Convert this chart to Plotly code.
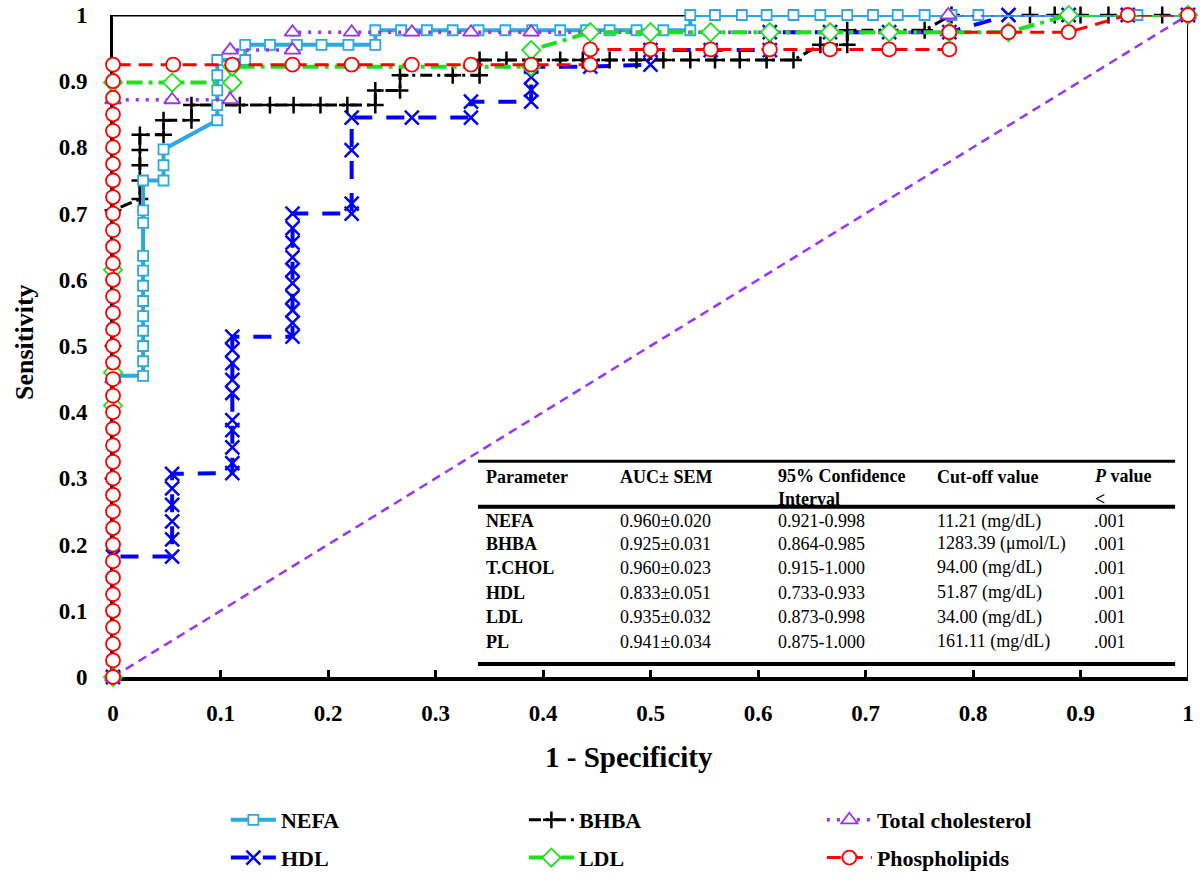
import plotly.graph_objects as go

# ROC curves: x = 1 - specificity, y = sensitivity
nefa_x = [0, 0,
          0.028, 0.028, 0.028, 0.028, 0.028, 0.028, 0.028, 0.028, 0.028, 0.028, 0.028, 0.028,
          0.047, 0.047, 0.047,
          0.097, 0.097, 0.097, 0.097, 0.097,
          0.123, 0.123,
          0.146, 0.171, 0.194, 0.219, 0.244,
          0.244,
          0.268, 0.292, 0.316, 0.340, 0.365, 0.390, 0.416, 0.440, 0.462, 0.487, 0.512, 0.537,
          0.537,
          0.560, 0.585, 0.608, 0.633, 0.658, 0.683, 0.707, 0.730, 0.755, 0.780, 0.805, 0.953, 1.0]
nefa_y = [0, 0.455,
          0.455, 0.477, 0.500, 0.523, 0.545, 0.568, 0.591, 0.614, 0.636, 0.686, 0.705, 0.750,
          0.750, 0.773, 0.797,
          0.841, 0.864, 0.886, 0.909, 0.932,
          0.932, 0.955,
          0.955, 0.955, 0.955, 0.955, 0.955,
          0.977,
          0.977, 0.977, 0.977, 0.977, 0.977, 0.977, 0.977, 0.977, 0.977, 0.977, 0.977, 0.977,
          1.0,
          1.0, 1.0, 1.0, 1.0, 1.0, 1.0, 1.0, 1.0, 1.0, 1.0, 1.0, 1.0, 1.0]

bhba_x = [0, 0, 0, 0,
          0.025, 0.025, 0.025, 0.025, 0.025,
          0.047, 0.047,
          0.073, 0.073,
          0.118, 0.146, 0.168, 0.193, 0.218, 0.244,
          0.244, 0.267,
          0.267, 0.316, 0.341,
          0.341, 0.366, 0.391, 0.416, 0.437, 0.462, 0.487, 0.512, 0.537, 0.560, 0.583, 0.608, 0.633,
          0.658, 0.683,
          0.683, 0.755,
          0.780, 0.853, 0.876, 0.900, 0.926, 0.976, 1.0]
bhba_y = [0, 0.300, 0.500, 0.705,
          0.722, 0.750, 0.773, 0.796, 0.819,
          0.819, 0.841,
          0.841, 0.864,
          0.864, 0.864, 0.864, 0.864, 0.864, 0.864,
          0.886, 0.886,
          0.909, 0.909, 0.909,
          0.932, 0.932, 0.932, 0.932, 0.932, 0.932, 0.932, 0.932, 0.932, 0.932, 0.932, 0.932, 0.932,
          0.955, 0.955,
          0.977, 0.977,
          1.0, 1.0, 1.0, 1.0, 1.0, 1.0, 1.0]

tchol_x = [0, 0, 0, 0.055, 0.109, 0.109, 0.167, 0.167, 0.222, 0.278, 0.333, 0.389, 0.777, 0.777, 1.0]
tchol_y = [0, 0.450, 0.872, 0.872, 0.872, 0.947, 0.947, 0.974, 0.974, 0.974, 0.974, 0.974, 0.974, 1.0, 1.0]

hdl_x = [0, 0,
         0.055, 0.055, 0.055, 0.055, 0.055, 0.055,
         0.111, 0.111, 0.111, 0.111, 0.111, 0.111, 0.111, 0.111, 0.111, 0.111,
         0.167, 0.167, 0.167, 0.167, 0.167, 0.167, 0.167, 0.167, 0.167, 0.167,
         0.222, 0.222, 0.222, 0.222,
         0.278,
         0.333, 0.333,
         0.389, 0.389, 0.389, 0.389,
         0.444,
         0.500, 0.500,
         0.556,
         0.611, 0.611,
         0.667, 0.722, 0.778,
         0.833, 0.889, 0.944, 1.0]
hdl_y = [0, 0.182,
         0.182, 0.208, 0.235, 0.260, 0.285, 0.307,
         0.308, 0.323, 0.347, 0.373, 0.388, 0.429, 0.449, 0.474, 0.494, 0.514,
         0.514, 0.535, 0.554, 0.574, 0.595, 0.615, 0.634, 0.656, 0.678, 0.700,
         0.700, 0.715, 0.796, 0.845,
         0.845,
         0.845, 0.869,
         0.869, 0.887, 0.906, 0.922,
         0.922,
         0.925, 0.947,
         0.947,
         0.947, 0.974,
         0.974, 0.974, 0.974,
         1.0, 1.0, 1.0, 1.0]

ldl_x = [0, 0, 0, 0, 0, 0.055, 0.111, 0.111, 0.389, 0.389, 0.444, 0.500, 0.556, 0.611, 0.667, 0.722, 0.778, 0.833, 0.889, 1.0]
ldl_y = [0, 0.410, 0.460, 0.615, 0.898, 0.898, 0.898, 0.922, 0.922, 0.947, 0.974, 0.974, 0.974, 0.974, 0.974, 0.974, 0.974, 0.974, 1.0, 1.0]

pl_x = [0, 0, 0, 0, 0, 0, 0, 0, 0, 0, 0, 0, 0, 0, 0, 0, 0, 0, 0,
        0, 0, 0, 0, 0, 0, 0, 0, 0, 0, 0, 0, 0, 0, 0, 0, 0, 0, 0,
        0.056, 0.111, 0.167, 0.222, 0.278, 0.333, 0.389, 0.444,
        0.444, 0.500, 0.556, 0.611, 0.667, 0.722, 0.778,
        0.778, 0.833, 0.889,
        0.944, 1.0]
pl_y = [0.000, 0.025, 0.050, 0.075, 0.100, 0.125, 0.150, 0.175, 0.200, 0.225, 0.250, 0.275, 0.300,
        0.325, 0.350, 0.375, 0.400, 0.425, 0.450, 0.475, 0.500, 0.525, 0.550, 0.575, 0.600, 0.625,
        0.650, 0.675, 0.700, 0.725, 0.750, 0.775, 0.800, 0.825, 0.850, 0.875, 0.900, 0.925,
        0.925, 0.925, 0.925, 0.925, 0.925, 0.925, 0.925, 0.925,
        0.948, 0.948, 0.948, 0.948, 0.948, 0.948, 0.948,
        0.974, 0.974, 0.974,
        1.0, 1.0]

ref_x = [0, 1]
ref_y = [0, 1]

x_ticks = [0, 0.1, 0.2, 0.3, 0.4, 0.5, 0.6, 0.7, 0.8, 0.9, 1]
y_ticks = [0, 0.1, 0.2, 0.3, 0.4, 0.5, 0.6, 0.7, 0.8, 0.9, 1]

# inset table
header = ["Parameter", "AUC± SEM", "95% Confidence<br>Interval", "Cut-off value", "<i>P</i> value<br>&lt;"]
params = ["NEFA", "BHBA", "T.CHOL", "HDL", "LDL", "PL"]
auc_sem = ["0.960±0.020", "0.925±0.031", "0.960±0.023", "0.833±0.051", "0.935±0.032", "0.941±0.034"]
conf_int = ["0.921-0.998", "0.864-0.985", "0.915-1.000", "0.733-0.933", "0.873-0.998", "0.875-1.000"]
cut_off = ["11.21 (mg/dL)", "1283.39 (μmol/L)", "94.00 (mg/dL)", "51.87 (mg/dL)", "34.00 (mg/dL)", "161.11 (mg/dL)"]
p_value = [".001", ".001", ".001", ".001", ".001", ".001"]

SERIF = "Liberation Serif"

fig = go.Figure()

fig.add_trace(go.Scatter(x=ref_x, y=ref_y, mode="lines", showlegend=False, hoverinfo="skip",
                         line=dict(color="#9933FF", width=2.5, dash="9px,6px")))

curves = [
    # name, x, y, colour, dash, width, symbol, size, fill, legend, rank
    ("HDL", hdl_x, hdl_y, "#0000FF", "18px,14px", 4, "x-thin", 14, "#0000FF", "legend2", 1),
    ("BHBA", bhba_x, bhba_y, "black", "12px,5px,3px,5px", 3, "cross-thin", 12, "black", "legend", 2),
    ("NEFA", nefa_x, nefa_y, "#2BA9E0", "solid", 4, "square", 10, "white", "legend", 1),
    ("Total cholesterol", tchol_x, tchol_y, "#9933EE", "3px,7px", 3.5, "triangle-up", 14, "white", "legend", 3),
    ("LDL", ldl_x, ldl_y, "#1EE01E", "16px,6px,4px,6px", 4, "diamond", 14, "white", "legend2", 2),
    ("Phospholipids", pl_x, pl_y, "#FF0000", "14px,8px", 3, "circle", 14, "white", "legend2", 3),
]

for name, xs, ys, col, dash, lw, sym, ms, fill, leg, rank in curves:
    fig.add_trace(go.Scatter(
        x=xs, y=ys, name=name, mode="lines+markers", cliponaxis=False,
        legend=leg, legendrank=rank,
        line=dict(color=col, width=lw, dash=dash),
        marker=dict(symbol=sym, size=ms, color=fill,
                    line=dict(color=col, width=2.5 if sym in ("x-thin", "cross-thin") else 1.8)),
    ))

# frame on top and right
fig.add_shape(type="line", x0=0, x1=1, y0=1, y1=1, xref="x", yref="y", layer="below",
              line=dict(color="black", width=3))
fig.add_shape(type="line", x0=1, x1=1, y0=0, y1=1, xref="x", yref="y", layer="below",
              line=dict(color="black", width=2))

# table rules
tab_x0, tab_x1 = 0.3395, 0.988
for yy, w in [(0.326, 3), (0.257, 4), (0.0196, 4)]:
    fig.add_shape(type="line", x0=tab_x0, x1=tab_x1, y0=yy, y1=yy, xref="x", yref="y",
                  line=dict(color="black", width=w))

col_x = [0.345, 0.4696, 0.6165, 0.7644, 0.9105]
head_y1, head_y2 = 0.302, 0.287
row_y = [0.2356, 0.201, 0.1647, 0.1269, 0.0906, 0.0529]


def cell(x, y, text, bold=False):
    fig.add_annotation(x=x, y=y, xref="x", yref="y", text=text, showarrow=False,
                       xanchor="left", yanchor="middle", align="left",
                       font=dict(family=SERIF, size=18, color="black",
                                 weight="bold" if bold else "normal"))


for i in range(5):
    cell(col_x[i], head_y2 if "<br>" in header[i] else head_y1, header[i], True)
for r in range(len(params)):
    cell(col_x[0], row_y[r], params[r], True)
    cell(col_x[1], row_y[r], auc_sem[r])
    cell(col_x[2], row_y[r], conf_int[r])
    cell(col_x[3], row_y[r], cut_off[r])
    cell(col_x[4], row_y[r], p_value[r])

# axis titles as annotations (the x title sits a little left of centre)
fig.add_annotation(x=0.48, y=-0.1208, xref="paper", yref="paper", text="1 - Specificity",
                   showarrow=False, xanchor="center", yanchor="middle",
                   font=dict(family=SERIF, size=29, color="black", weight="bold"))
fig.add_annotation(x=-0.0828, y=0.506, xref="paper", yref="paper", text="Sensitivity",
                   showarrow=False, xanchor="center", yanchor="middle", textangle=-90,
                   font=dict(family=SERIF, size=26, color="black", weight="bold"))

legend_style = dict(orientation="h", xanchor="left", yanchor="middle", entrywidth=238,
                    itemwidth=45, bgcolor="rgba(0,0,0,0)",
                    font=dict(family=SERIF, size=22, color="black", weight="bold"))

fig.update_layout(
    width=1200, height=888,
    margin=dict(l=113, r=12, t=15, b=211, autoexpand=False),
    plot_bgcolor="white", paper_bgcolor="white",
    font=dict(family=SERIF, color="black"),
    legend=dict(legend_style, x=0.105, y=-0.216),
    legend2=dict(legend_style, x=0.105, y=-0.273),
    xaxis=dict(range=[0, 1], tickvals=x_ticks, ticktext=[str(v) for v in x_ticks],
               automargin=False, ticklabeloverflow="allow",
               showgrid=False, zeroline=False, showline=True, linecolor="black", linewidth=4,
               ticks="inside", ticklen=7, tickwidth=3, tickcolor="black", layer="below traces",
               ticklabelstandoff=12,
               tickfont=dict(family=SERIF, size=23, color="black", weight="bold")),
    yaxis=dict(range=[0, 1], tickvals=y_ticks, ticktext=[str(v) for v in y_ticks],
               automargin=False, ticklabeloverflow="allow",
               showgrid=False, zeroline=False, showline=True, linecolor="black", linewidth=3,
               ticks="inside", ticklen=6, tickwidth=3, tickcolor="black", layer="below traces",
               ticklabelstandoff=18,
               tickfont=dict(family=SERIF, size=23, color="black", weight="bold")),
)

# drop the page's default 8px body margin so the figure fills the window exactly
fig.write_html("out.html", config={"displayModeBar": False},
               post_script="document.body.style.margin = '0';")
